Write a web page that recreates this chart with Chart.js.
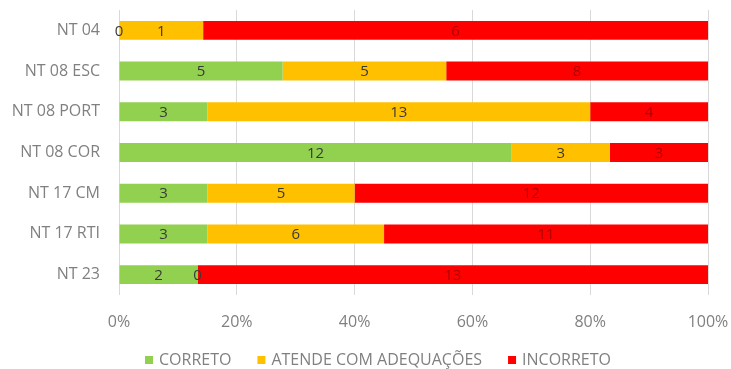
<!DOCTYPE html>
<html>
<head>
<meta charset="utf-8">
<script src="https://cdn.jsdelivr.net/npm/chart.js@4.4.1/dist/chart.umd.min.js"></script>
<style>
  html, body { margin: 0; padding: 0; background: #ffffff; }
  #wrap { width: 731px; height: 369px; position: relative; }
</style>
</head>
<body>
<div id="wrap"><canvas id="c" width="731" height="369"></canvas></div>
<script>
// Avaliação das notas técnicas: contagem de itens por situação
const categories = ['NT 04', 'NT 08 ESC', 'NT 08 PORT', 'NT 08 COR', 'NT 17 CM', 'NT 17 RTI', 'NT 23'];
const seriesNames = ['CORRETO', 'ATENDE COM ADEQUAÇÕES', 'INCORRETO'];
const correto   = [0, 5, 3, 12, 3, 3, 2];
const atende    = [1, 5, 13, 3, 5, 6, 0];
const incorreto = [6, 8, 4, 3, 12, 11, 13];
const tickValues = [0, 20, 40, 60, 80, 100];

const colors = ['#92D050', '#FFC000', '#FF0000'];
const labelColors = ['#3a3a3a', '#3a3a3a', '#b00000'];
const counts = [correto, atende, incorreto];

// 100% stacked: each bar is shown as the share of its row total
const totals = categories.map((_, i) => correto[i] + atende[i] + incorreto[i]);
const share = arr => arr.map((v, i) => v / totals[i] * 100);

const FONT = '"Open Sans", Lato, sans-serif';

const valueLabels = {
  id: 'valueLabels',
  afterDatasetsDraw(chart) {
    const ctx = chart.ctx;
    ctx.save();
    ctx.font = '15px ' + FONT;
    ctx.textAlign = 'center';
    ctx.textBaseline = 'middle';
    chart.data.datasets.forEach((ds, di) => {
      const meta = chart.getDatasetMeta(di);
      meta.data.forEach((el, i) => {
        const cx = (el.x + el.base) / 2;
        ctx.fillStyle = labelColors[di];
        ctx.fillText(String(counts[di][i]), cx, el.y + 1);
      });
    });
    ctx.restore();
  }
};

const bottomLegend = {
  id: 'bottomLegend',
  afterDraw(chart) {
    const ctx = chart.ctx;
    ctx.save();
    ctx.font = '16px ' + FONT;
    ctx.textBaseline = 'middle';
    const box = 8, gapBox = 6, gapItem = 26;
    const widths = seriesNames.map(n => box + gapBox + ctx.measureText(n).width);
    const total = widths.reduce((a, b) => a + b, 0) + gapItem * (seriesNames.length - 1);
    let x = 378 - total / 2;
    const y = 360;
    seriesNames.forEach((n, i) => {
      ctx.fillStyle = colors[i];
      ctx.fillRect(x, y - box / 2, box, box);
      ctx.fillStyle = '#808080';
      ctx.fillText(n, x + box + gapBox, y);
      x += widths[i] + gapItem;
    });
    ctx.restore();
  }
};

new Chart(document.getElementById('c'), {
  type: 'bar',
  data: {
    labels: categories,
    datasets: seriesNames.map((name, k) => ({
      label: name,
      data: share(counts[k]),
      backgroundColor: colors[k],
      borderWidth: 0,
      barPercentage: 0.93,
      categoryPercentage: 0.5
    }))
  },
  options: {
    indexAxis: 'y',
    responsive: false,
    animation: false,
    devicePixelRatio: 1,
    layout: { padding: { top: 10, right: 23, bottom: 0, left: 0 } },
    plugins: {
      legend: { display: false },
      tooltip: { enabled: false }
    },
    scales: {
      x: {
        stacked: true,
        min: 0,
        max: 100,
        afterBuildTicks(scale) { scale.ticks = tickValues.map(v => ({ value: v })); },
        afterFit(scale) {
          scale.height = 74;
          scale.paddingLeft = 0;
          scale.paddingRight = 0;
        },
        grid: { color: '#d9d9d9', drawTicks: false },
        border: { display: false },
        ticks: {
          padding: 18,
          color: '#808080',
          font: { family: FONT, size: 16 },
          callback: v => v + '%'
        }
      },
      y: {
        stacked: true,
        afterFit(scale) {
          scale.width = 119;
          scale.paddingTop = 0;
          scale.paddingBottom = 0;
        },
        grid: { display: false },
        border: { display: false },
        ticks: {
          padding: 11,
          color: '#808080',
          font: { family: FONT, size: 16 }
        }
      }
    }
  },
  plugins: [valueLabels, bottomLegend]
});
</script>
</body>
</html>
